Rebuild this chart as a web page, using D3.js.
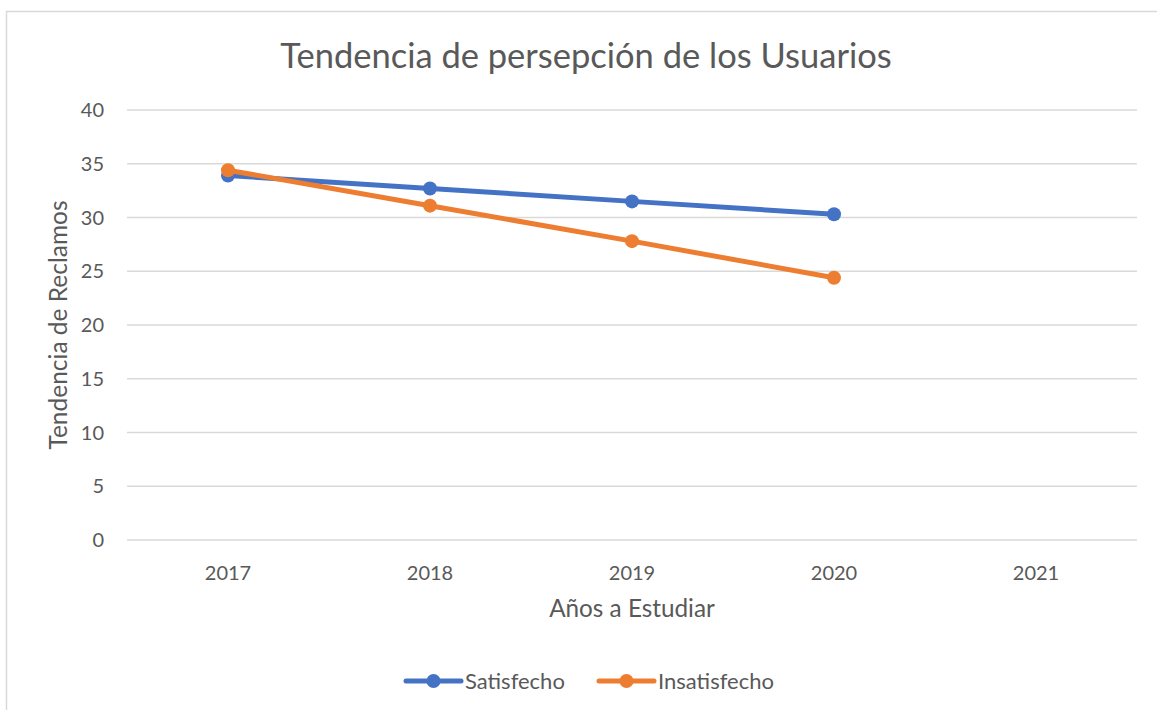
<!DOCTYPE html>
<html>
<head>
<meta charset="utf-8">
<script src="https://cdn.jsdelivr.net/npm/d3@7"></script>
<style>
  body { margin: 0; background: #fff; }
  text { font-family: Lato, "Open Sans", sans-serif; fill: #595959; }
</style>
</head>
<body>
<svg id="chart" width="1157" height="710"></svg>
<script>
// data
var years = ["2017", "2018", "2019", "2020", "2021"]
var satisfecho = [33.9, 32.7, 31.5, 30.3]
var insatisfecho = [34.4, 31.1, 27.8, 24.4]
var yTicks = [0, 5, 10, 15, 20, 25, 30, 35, 40]
var seriesNames = ["Satisfecho", "Insatisfecho"]
var seriesColors = ["#4472c4", "#ed7d31"]

var svg = d3.select("#chart")

// outer chart frame (right and bottom edges fall outside the picture)
svg.append("rect")
    .attr("x", 6.5).attr("y", 11.5)
    .attr("width", 1200).attr("height", 800)
    .attr("fill", "none").attr("stroke", "#d9d9d9").attr("stroke-width", 1.5)

var x = d3.scaleBand().domain(years).range([127, 1137])
var y = d3.scaleLinear().domain([0, 40]).range([540, 110])

// gridlines
svg.append("g").selectAll("line")
    .data(yTicks)
    .join("line")
    .attr("x1", 127).attr("x2", 1137)
    .attr("y1", d => y(d)).attr("y2", d => y(d))
    .attr("stroke", "#d9d9d9").attr("stroke-width", 1.5)

// y tick labels
svg.append("g").selectAll("text")
    .data(yTicks)
    .join("text")
    .attr("x", 104).attr("y", d => y(d))
    .attr("dy", "0.35em")
    .attr("text-anchor", "end")
    .attr("font-size", 20)
    .text(d => d)

// x tick labels
svg.append("g").selectAll("text")
    .data(years)
    .join("text")
    .attr("x", d => x(d) + x.bandwidth()/2)
    .attr("y", 580)
    .attr("text-anchor", "middle")
    .attr("font-size", 20)
    .text(d => d)

// titles
svg.append("text")
    .attr("x", 586).attr("y", 68)
    .attr("text-anchor", "middle")
    .attr("font-size", 34.5)
    .text("Tendencia de persepción de los Usuarios")

svg.append("text")
    .attr("x", 632).attr("y", 617)
    .attr("text-anchor", "middle")
    .attr("font-size", 24.3)
    .text("Años a Estudiar")

svg.append("text")
    .attr("transform", "translate(67,325) rotate(-90)")
    .attr("text-anchor", "middle")
    .attr("font-size", 24.5)
    .text("Tendencia de Reclamos")

var line = d3.line()
    .x((d, i) => x(years[i]) + x.bandwidth()/2)
    .y(d => y(d))

var allSeries = [satisfecho, insatisfecho]

allSeries.forEach(function(vals, k) {
    var g = svg.append("g")
    g.append("path")
        .attr("d", line(vals))
        .attr("fill", "none")
        .attr("stroke", seriesColors[k])
        .attr("stroke-width", 5)
        .attr("stroke-linecap", "round")
        .attr("stroke-linejoin", "round")
    g.selectAll("circle")
        .data(vals)
        .join("circle")
        .attr("cx", (d, i) => x(years[i]) + x.bandwidth()/2)
        .attr("cy", d => y(d))
        .attr("r", 7)
        .attr("fill", seriesColors[k])
})

// legend
var legendX = [406, 599]
seriesNames.forEach(function(name, k) {
    var lg = svg.append("g").attr("transform", "translate(" + legendX[k] + ",681)")
    lg.append("line")
        .attr("x1", 0).attr("x2", 55)
        .attr("stroke", seriesColors[k]).attr("stroke-width", 5)
        .attr("stroke-linecap", "round")
    lg.append("circle")
        .attr("cx", 27.5).attr("r", 7)
        .attr("fill", seriesColors[k])
    lg.append("text")
        .attr("x", 59).attr("dy", "0.35em")
        .attr("font-size", 22)
        .text(name)
})
</script>
</body>
</html>
